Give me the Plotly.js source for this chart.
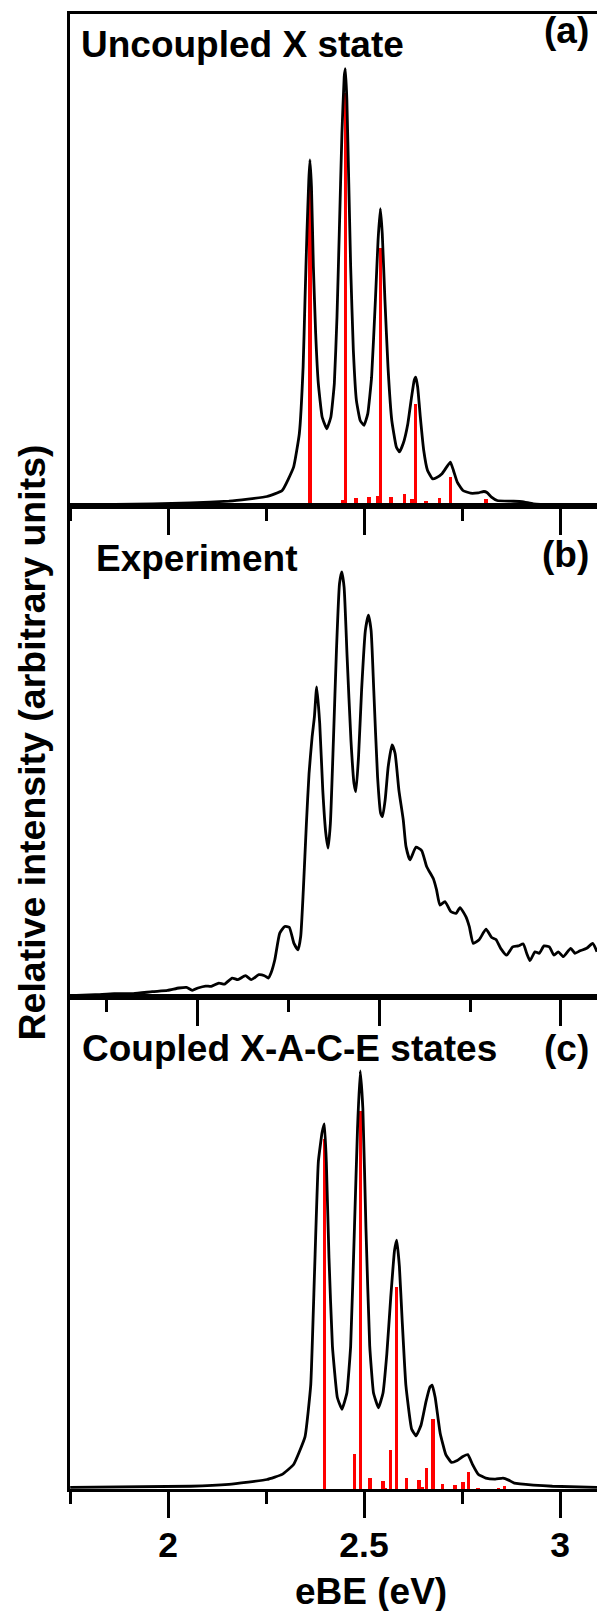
<!DOCTYPE html>
<html>
<head>
<meta charset="utf-8">
<script src="https://cdn.plot.ly/plotly-3.0.1.min.js"></script>
<style>
  html, body { margin: 0; padding: 0; background: #ffffff; }
  #chart { width: 597px; height: 1611px; }
</style>
</head>
<body>
<div id="chart"></div>
<script>
// ---------- Panel (a): uncoupled X state (simulated) ----------
const aCurveX = [1.7505,1.8641,1.9612,2.0583,2.1553,2.2039,2.2524,2.2913,2.3204,2.3350,
                 2.3447,2.3495,2.3544,2.3592,2.3621,2.3660,2.3709,2.3767,2.3835,2.3932,
                 2.4049,2.4155,2.4243,2.4311,2.4369,2.4437,2.4495,2.4524,2.4563,2.4612,
                 2.4660,2.4728,2.4806,2.4903,2.5000,2.5097,2.5194,2.5291,2.5359,2.5417,
                 2.5466,2.5534,2.5612,2.5709,2.5825,2.5903,2.6000,2.6117,2.6214,2.6282,
                 2.6320,2.6369,2.6437,2.6524,2.6621,2.6748,2.6845,2.6990,2.7107,2.7204,
                 2.7282,2.7379,2.7524,2.7718,2.7913,2.8058,2.8136,2.8252,2.8398,2.8738,
                 2.9029,2.9320,2.9806,3.0951];
const aCurveY = [0.14,0.20,0.34,0.54,0.88,1.29,1.83,3.05,7.81,14.6,
                 28.2,41.8,55.3,66.2,70.3,64.8,48.5,35.0,24.8,18.0,
                 15.6,18.0,24.8,38.4,55.3,75.7,87.2,88.9,82.5,65.5,
                 48.5,31.6,21.4,17.3,16.3,18.7,26.1,41.8,54.0,60.4,
                 55.3,41.8,28.2,17.3,11.9,10.9,12.6,16.6,22.1,25.5,
                 26.1,24.1,18.0,11.2,7.13,5.43,5.63,6.45,7.81,8.83,
                 7.13,4.75,3.05,2.51,2.58,2.85,2.65,1.70,1.02,0.88,
                 0.81,0.34,0.14,0.07];
const aStickX = [2.3626,2.4450,2.4522,2.4794,2.5130,2.5340,2.5414,2.5690,2.6030,2.6225,2.6315,2.6580,2.6920,2.7130,2.7207,2.7810,2.8110];
const aStickY = [65.0,1.1,83.9,1.6,1.7,1.9,52.3,1.8,2.3,1.3,20.7,1.0,1.5,0.6,5.9,0.5,1.3];

// ---------- Panel (b): experiment ----------
const bCurveX = [1.6496,1.7197,1.7720,1.8243,1.8766,1.9184,1.9498,1.9707,1.9864,2.0021,
                 2.0230,2.0387,2.0596,2.0753,2.0962,2.1119,2.1328,2.1485,2.1695,2.1851,
                 2.1956,2.2029,2.2134,2.2270,2.2406,2.2531,2.2657,2.2772,2.2845,2.2918,
                 2.3002,2.3075,2.3159,2.3222,2.3285,2.3368,2.3452,2.3536,2.3598,2.3661,
                 2.3745,2.3828,2.3912,2.3975,2.4038,2.4121,2.4226,2.4310,2.4362,2.4435,
                 2.4519,2.4623,2.4707,2.4780,2.4854,2.4958,2.5042,2.5094,2.5167,2.5251,
                 2.5356,2.5439,2.5544,2.5665,2.5740,2.5850,2.6014,2.6170,2.6310,2.6490,
                 2.6580,2.6674,2.6810,2.6970,2.7114,2.7224,2.7389,2.7480,2.7590,2.7755,
                 2.7939,2.8095,2.8213,2.8342,2.8507,2.8672,2.8827,2.8964,2.9057,2.9148,
                 2.9285,2.9404,2.9533,2.9679,2.9808,2.9926,3.0064,3.0267,3.0385,3.0522,
                 3.0706,3.0871,3.0990];
const bCurveY = [0.27,0.47,0.68,0.68,1.08,1.35,1.83,1.96,1.35,1.83,
                 2.23,2.17,2.84,2.64,3.86,3.52,4.33,3.52,4.54,4.33,
                 3.86,4.87,7.58,13.0,14.35,14.2,10.97,9.6,12.3,21.8,
                 35.3,45.5,52.9,57.0,63.1,55.7,42.1,33.3,30.3,35.3,
                 52.3,70.5,84.1,86.5,83.4,69.2,52.3,43.5,41.8,48.9,
                 62.4,74.6,77.7,74.6,62.4,44.8,37.4,36.7,40.1,46.9,
                 51.3,49.6,42.1,36.0,30.6,27.9,30.5,29.8,26.5,24.1,
                 21.8,18.7,19.4,17.4,17.0,18.2,16.3,14.3,10.9,11.7,
                 13.8,12.1,11.7,9.9,8.5,10.2,10.4,10.8,8.9,7.4,
                 9.2,8.9,10.4,10.2,8.5,9.2,8.2,9.9,8.9,9.4,
                 9.9,10.9,9.2];

// ---------- Panel (c): coupled X-A-C-E states (simulated) ----------
const cCurveX = [1.7505,2.0583,2.1553,2.2524,2.2913,2.3204,2.3495,2.3641,2.3738,2.3835,
                 2.3932,2.3990,2.4039,2.4107,2.4194,2.4320,2.4437,2.4563,2.4660,
                 2.4757,2.4835,2.4903,2.4971,2.5049,2.5146,2.5243,2.5369,2.5485,2.5583,
                 2.5680,2.5777,2.5835,2.5903,2.5971,2.6068,2.6214,2.6330,2.6456,2.6583,
                 2.6680,2.6738,2.6816,2.6942,2.7087,2.7233,2.7379,2.7524,2.7650,2.7767,
                 2.7913,2.8107,2.8350,2.8544,2.8689,2.8835,2.9320,2.9806,3.0951];
const cCurveY = [0.32,0.56,0.96,1.93,2.97,4.98,10.6,21.1,44.0,66.5,
                 72.5,74.2,66.5,47.0,29.1,18.6,16.2,19.5,29.1,
                 53.2,73.3,85.0,77.3,53.2,29.1,19.5,16.5,19.5,27.5,
                 38.7,48.4,50.6,45.2,34.7,21.1,12.2,10.8,13.0,17.8,
                 20.7,21.1,18.6,11.4,7.0,5.4,5.8,6.6,7.0,5.0,
                 3.0,2.2,2.0,2.2,1.8,1.2,0.8,0.56,0.32];
const cStickX = [2.3990,2.4763,2.4910,2.5153,2.5485,2.5554,2.5681,2.5830,2.6082,2.6403,2.6490,2.6600,2.6756,2.7000,2.7320,2.7526,2.7670,2.7910,2.8437,2.8580];
const cStickY = [71.1,7.1,76.9,2.2,1.6,0.3,7.9,41.0,2.2,1.8,0.5,4.2,14.3,1.0,0.8,1.4,3.5,0.2,0.2,0.6];

// ---------- Text ----------
const panelTitles = ["Uncoupled X state", "Experiment", "Coupled X-A-C-E states"];
const panelTags = ["(a)", "(b)", "(c)"];
const xTickVals = [2, 2.5, 3];
const xTickText = ["2", "2.5", "3"];
const xTitle = "eBE (eV)";
const yTitle = "Relative intensity (arbitrary units)";

// ---------- Layout helpers ----------
const W = 597, H = 1611;
const M = {l: 70, r: 0, t: 14, b: 122};
const PW = W - M.l - M.r, PH = H - M.t - M.b;
const px2x = p => (p - M.l) / PW;           // pixel -> paper x
const px2y = p => (M.t + PH - p) / PH;      // pixel -> paper y
const FONT = "Liberation Sans, Arial, Helvetica, sans-serif";
const FS = 37;

const stickWidth = 0.0085;
const simLine = {color: "#000000", width: 2.8, shape: "spline", smoothing: 0.35};
const expLine = {color: "#000000", width: 2.8, shape: "spline", smoothing: 0.5};

const traces = [
  {type: "bar", x: aStickX, y: aStickY, width: stickWidth, marker: {color: "#ff0000"}, xaxis: "x", yaxis: "y", hoverinfo: "skip"},
  {type: "scatter", mode: "lines", x: aCurveX, y: aCurveY, line: simLine, xaxis: "x", yaxis: "y"},
  {type: "scatter", mode: "lines", x: bCurveX, y: bCurveY, line: expLine, xaxis: "x2", yaxis: "y2"},
  {type: "bar", x: cStickX, y: cStickY, width: stickWidth, marker: {color: "#ff0000"}, xaxis: "x3", yaxis: "y3", hoverinfo: "skip"},
  {type: "scatter", mode: "lines", x: cCurveX, y: cCurveY, line: simLine, xaxis: "x3", yaxis: "y3"}
];

const yA = [px2y(505.5), 1];
const yB = [px2y(997), px2y(505.5)];
const yC = [0, px2y(997)];

function xAxis(anchor, range, labels) {
  return {
    anchor: anchor, domain: [0, 1], range: range,
    showline: true, mirror: true, linecolor: "#000000", linewidth: 3,
    showgrid: false, zeroline: false,
    ticks: "outside", ticklen: 26, tickwidth: 3, tickcolor: "#000000",
    tickmode: "array", tickvals: xTickVals, ticktext: xTickText,
    showticklabels: labels, ticklabelstandoff: -4,
    tickfont: {family: FONT, size: 35.5, color: "#000000", weight: "bold"},
    minor: {ticks: "outside", ticklen: 12, tickwidth: 3, tickcolor: "#000000", tick0: 1.75, dtick: 0.25, showgrid: false},
    fixedrange: true
  };
}
function yAxis(anchor, domain) {
  return {
    anchor: anchor, domain: domain, range: [0, 100],
    showline: true, mirror: true, linecolor: "#000000", linewidth: 3,
    showgrid: false, zeroline: false, ticks: "", showticklabels: false, fixedrange: true
  };
}

const textFont = {family: FONT, size: FS, color: "#000000", weight: "bold"};
const annotations = [
  {text: panelTitles[0], x: px2x(79), y: px2y(44.5), xanchor: "left", yanchor: "middle"},
  {text: panelTags[0], x: px2x(591), y: px2y(30), xanchor: "right", yanchor: "middle"},
  {text: panelTitles[1], x: px2x(94), y: px2y(559), xanchor: "left", yanchor: "middle"},
  {text: panelTags[1], x: px2x(591), y: px2y(554), xanchor: "right", yanchor: "middle"},
  {text: panelTitles[2], x: px2x(80), y: px2y(1048), xanchor: "left", yanchor: "middle"},
  {text: panelTags[2], x: px2x(591), y: px2y(1048), xanchor: "right", yanchor: "middle"},
  {text: xTitle, x: px2x(370.5), y: px2y(1591), xanchor: "center", yanchor: "middle"},
  {text: yTitle, x: px2x(31), y: px2y(742.5), xanchor: "center", yanchor: "middle", textangle: -90,
   font: {family: FONT, size: 37.5, color: "#000000", weight: "bold"}}
].map(a => Object.assign({xref: "paper", yref: "paper", showarrow: false, font: textFont}, a));

const layout = {
  width: W, height: H,
  margin: M,
  paper_bgcolor: "#ffffff", plot_bgcolor: "rgba(0,0,0,0)",
  showlegend: false,
  bargap: 0,
  font: {family: FONT, size: FS, color: "#000000"},
  xaxis: xAxis("y", [1.75, 1.75 + PW / 392], false),
  xaxis2: xAxis("y2", [1.6504, 1.6504 + PW / 363.8], false),
  xaxis3: xAxis("y3", [1.75, 1.75 + PW / 392], true),
  yaxis: yAxis("x", yA),
  yaxis2: yAxis("x2", yB),
  yaxis3: yAxis("x3", yC),
  annotations: annotations
};

Plotly.newPlot("chart", traces, layout, {staticPlot: true, displayModeBar: false});
</script>
</body>
</html>
